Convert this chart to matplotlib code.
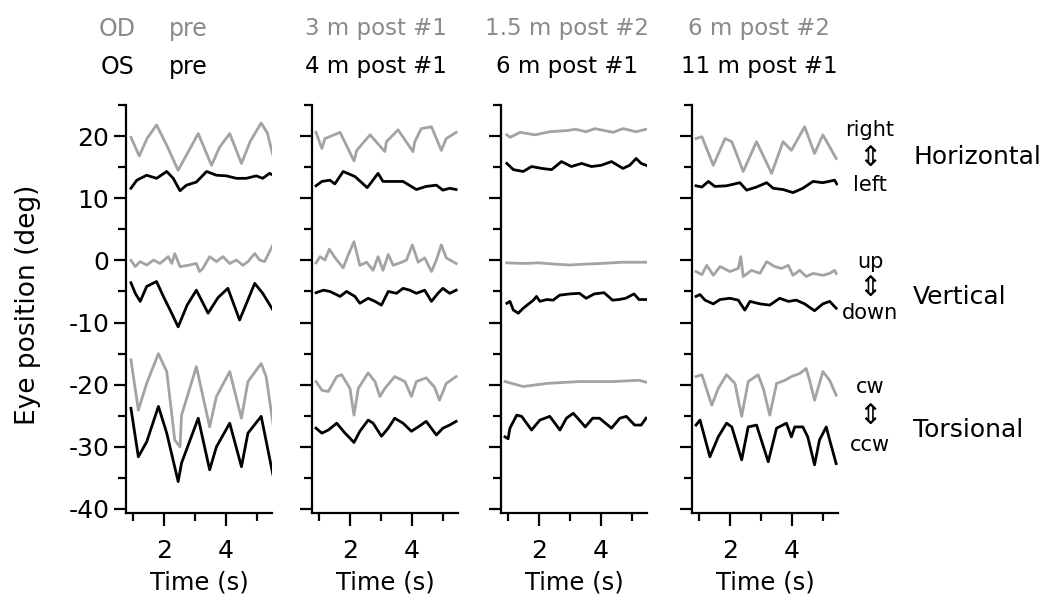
import matplotlib
matplotlib.use("Agg")
import matplotlib.pyplot as plt
from matplotlib.ticker import FixedLocator

plt.rcParams['font.family'] = ['DejaVu Sans']
plt.rcParams['axes.unicode_minus'] = False

GRAY = '#a3a3a3'
TXT_GRAY = '#8a8a8a'

# ---- titles ----
od_titles = ['pre', '3 m post #1', '1.5 m post #2', '6 m post #2']
os_titles = ['pre', '4 m post #1', '6 m post #1', '11 m post #1']

# ---- panel 1 : pre / pre ----
p1_h_od_t = [0.93, 1.20, 1.45, 1.76, 2.10, 2.46, 2.80, 3.11, 3.54, 3.80, 4.13, 4.51, 4.80, 5.15, 5.35, 5.53]
p1_h_od = [19.8, 16.8, 19.6, 21.8, 18.4, 14.5, 17.6, 20.4, 15.3, 18.2, 20.4, 15.6, 19.2, 22.1, 20.5, 16.9]
p1_h_os_t = [0.93, 1.12, 1.44, 1.76, 2.09, 2.30, 2.52, 2.73, 3.05, 3.38, 3.70, 4.02, 4.35, 4.67, 4.99, 5.20, 5.42, 5.54]
p1_h_os = [11.6, 12.9, 13.7, 13.2, 14.3, 13.2, 11.2, 12.1, 12.6, 14.3, 13.7, 13.6, 13.2, 13.2, 13.6, 13.2, 14.0, 13.7]
p1_v_od_t = [0.93, 1.07, 1.23, 1.44, 1.66, 1.87, 2.14, 2.25, 2.35, 2.52, 2.78, 3.05, 3.15, 3.26, 3.48, 3.70, 3.91,
             4.13, 4.35, 4.56, 4.72, 4.94, 5.10, 5.26, 5.53]
p1_v_od = [0.0, -1.0, -0.2, -0.75, 0.05, -0.5, 0.6, -0.5, 1.1, -1.0, -0.8, -0.5, -1.8, -1.3, 0.6, -0.2, 0.6,
           -0.5, 0.05, -0.8, -0.2, 1.1, 0.05, -0.2, 2.5]
p1_v_os_t = [0.93, 1.07, 1.23, 1.44, 1.76, 1.98, 2.20, 2.46, 2.75, 3.05, 3.43, 3.75, 4.07, 4.45, 4.94, 5.20, 5.53]
p1_v_os = [-3.6, -5.3, -6.6, -4.2, -3.4, -5.8, -8.0, -10.7, -7.2, -4.8, -8.5, -6.0, -4.5, -9.6, -3.7, -5.3, -8.0]
p1_t_od_t = [0.93, 1.17, 1.44, 1.82, 2.09, 2.35, 2.52, 2.57, 3.05, 3.48, 3.70, 4.13, 4.51, 4.72, 5.15, 5.31, 5.53]
p1_t_od = [-16.0, -24.1, -19.8, -15.0, -17.9, -28.9, -30.0, -24.9, -17.1, -26.8, -21.9, -17.9, -25.4, -19.5, -16.6,
           -18.7, -26.2]
p1_t_os_t = [0.93, 1.17, 1.44, 1.82, 2.09, 2.46, 2.57, 3.11, 3.48, 3.70, 4.13, 4.51, 4.72, 5.15, 5.53]
p1_t_os = [-23.8, -31.6, -29.2, -23.5, -27.8, -35.6, -32.6, -25.4, -33.7, -30.0, -26.2, -33.2, -27.8, -25.1, -34.5]

# ---- panel 2 : 3 m post #1 / 4 m post #1 ----
p2_h_od_t = [0.90, 1.09, 1.19, 1.68, 2.13, 2.22, 2.65, 3.13, 3.18, 3.56, 4.04, 4.10, 4.31, 4.64, 4.96, 5.12, 5.44]
p2_h_od = [20.6, 18.0, 19.6, 20.6, 16.0, 17.7, 20.2, 17.5, 19.1, 21.0, 17.5, 19.1, 21.2, 21.5, 17.7, 19.6, 20.6]
p2_h_os_t = [0.90, 1.09, 1.35, 1.51, 1.78, 2.16, 2.56, 2.91, 3.07, 3.40, 3.72, 4.15, 4.47, 4.80, 5.01, 5.23, 5.44]
p2_h_os = [12.0, 12.7, 12.9, 12.3, 14.3, 13.5, 11.7, 14.0, 12.7, 12.7, 12.7, 11.4, 11.9, 12.1, 11.3, 11.6, 11.4]
p2_v_od_t = [0.90, 1.03, 1.19, 1.33, 1.52, 1.78, 1.95, 2.13, 2.32, 2.54, 2.75, 2.91, 3.07, 3.24, 3.40, 3.67, 3.83,
             4.02, 4.21, 4.42, 4.64, 4.80, 4.96, 5.12, 5.44]
p2_v_od = [-0.4, 0.6, 0.05, 1.8, 0.4, -1.2, 0.95, 3.0, -0.8, -0.3, -1.6, 0.6, -1.6, 0.95, -0.8, -0.3, 0.05,
           2.5, -0.3, 0.4, -1.8, 0.05, 2.5, 0.4, -0.5]
p2_v_os_t = [0.90, 1.14, 1.35, 1.68, 1.89, 2.16, 2.32, 2.59, 2.81, 3.02, 3.24, 3.51, 3.72, 3.94, 4.15, 4.42, 4.64,
             4.85, 5.01, 5.23, 5.44]
p2_v_os = [-5.2, -4.8, -5.0, -5.8, -5.0, -5.8, -6.9, -6.1, -6.6, -7.2, -5.0, -5.3, -4.5, -4.8, -5.3, -4.8, -6.6,
           -5.3, -4.5, -5.3, -4.8]
p2_t_od_t = [0.90, 1.09, 1.30, 1.57, 1.73, 2.00, 2.13, 2.27, 2.59, 2.81, 2.97, 3.13, 3.45, 3.78, 3.99, 4.15, 4.47,
             4.74, 4.90, 5.12, 5.44]
p2_t_od = [-19.5, -20.9, -21.1, -18.7, -18.4, -20.6, -24.9, -20.6, -18.1, -19.5, -21.9, -20.6, -18.7, -19.5, -21.9,
           -19.5, -18.9, -20.4, -22.5, -19.8, -18.7]
p2_t_os_t = [0.90, 1.09, 1.30, 1.57, 1.84, 2.13, 2.32, 2.59, 2.75, 3.02, 3.24, 3.45, 3.72, 3.99, 4.21, 4.47, 4.80,
             5.01, 5.23, 5.44]
p2_t_os = [-27.0, -27.8, -27.3, -26.2, -27.8, -29.3, -27.5, -25.7, -26.2, -28.3, -27.0, -25.4, -26.2, -27.5, -26.8,
           -25.9, -28.1, -27.0, -26.5, -25.9]

# ---- panel 3 : 1.5 m post #2 / 6 m post #1 ----
p3_h_od_t = [0.96, 1.06, 1.39, 1.87, 2.35, 2.94, 3.18, 3.53, 3.81, 4.40, 4.72, 5.15, 5.47]
p3_h_od = [20.2, 19.8, 20.6, 20.2, 20.7, 20.9, 21.1, 20.7, 21.2, 20.6, 21.2, 20.7, 21.1]
p3_h_os_t = [0.96, 1.17, 1.49, 1.76, 2.09, 2.41, 2.73, 3.05, 3.38, 3.70, 4.02, 4.35, 4.72, 4.94, 5.15, 5.31, 5.47]
p3_h_os = [15.6, 14.6, 14.3, 15.1, 14.8, 14.6, 15.9, 15.1, 15.6, 15.1, 15.3, 15.9, 14.8, 15.3, 16.4, 15.6, 15.3]
p3_v_od_t = [0.96, 1.50, 2.00, 2.50, 3.00, 3.50, 4.00, 4.70, 5.47]
p3_v_od = [-0.4, -0.5, -0.4, -0.6, -0.75, -0.6, -0.5, -0.3, -0.3]
p3_v_os_t = [0.96, 1.06, 1.17, 1.33, 1.49, 1.82, 1.92, 2.03, 2.25, 2.46, 2.67, 2.99, 3.31, 3.53, 3.79, 4.11, 4.38,
             4.59, 4.81, 5.08, 5.24, 5.47]
p3_v_os = [-6.9, -6.6, -8.0, -8.5, -7.7, -6.4, -5.8, -6.6, -6.3, -6.4, -5.6, -5.4, -5.3, -6.1, -5.4, -5.2, -6.4,
           -6.3, -6.1, -5.4, -6.3, -6.3]
p3_t_od_t = [0.90, 1.49, 2.25, 3.31, 4.38, 5.24, 5.47]
p3_t_od = [-19.5, -20.3, -19.8, -19.5, -19.5, -19.3, -19.6]
p3_t_os_t = [0.90, 1.00, 1.06, 1.28, 1.44, 1.76, 2.03, 2.35, 2.68, 2.89, 3.11, 3.31, 3.50, 3.74, 3.96, 4.35, 4.62,
             4.83, 5.10, 5.31, 5.47]
p3_t_os = [-28.4, -28.7, -27.0, -24.9, -25.1, -27.3, -25.7, -25.1, -27.3, -25.4, -24.6, -25.7, -26.8, -25.4, -25.4,
           -27.0, -25.4, -25.1, -26.5, -26.5, -25.4]

# ---- panel 4 : 6 m post #2 / 11 m post #1 ----
p4_h_od_t = [0.90, 1.09, 1.46, 1.84, 2.06, 2.43, 2.86, 3.35, 3.72, 3.99, 4.42, 4.74, 5.01, 5.44]
p4_h_od = [19.6, 19.9, 15.3, 19.6, 19.1, 14.3, 19.1, 14.0, 19.1, 17.7, 21.5, 17.2, 20.2, 16.4]
p4_h_os_t = [0.90, 1.09, 1.30, 1.51, 1.89, 2.32, 2.54, 2.86, 3.19, 3.40, 3.72, 4.04, 4.36, 4.69, 5.01, 5.39, 5.46]
p4_h_os = [12.0, 11.8, 12.7, 11.9, 12.0, 12.5, 11.3, 11.8, 12.5, 11.6, 11.4, 10.9, 11.6, 12.7, 12.5, 12.9, 12.3]
p4_v_od_t = [0.90, 1.09, 1.25, 1.46, 1.68, 2.00, 2.27, 2.35, 2.43, 2.70, 2.97, 3.19, 3.45, 3.67, 3.89, 4.04, 4.26,
             4.47, 4.69, 5.01, 5.23, 5.39, 5.44]
p4_v_od = [-1.8, -2.3, -0.8, -2.4, -1.0, -1.8, -1.3, 0.6, -2.6, -1.6, -2.1, -0.2, -1.0, -1.3, -0.8, -2.4, -1.6,
           -2.6, -2.1, -2.4, -2.1, -1.6, -2.1]
p4_v_os_t = [0.90, 1.03, 1.19, 1.46, 1.68, 2.00, 2.27, 2.48, 2.65, 2.97, 3.29, 3.61, 3.89, 4.15, 4.42, 4.74, 5.01,
             5.23, 5.44]
p4_v_os = [-5.8, -5.5, -6.4, -7.0, -6.3, -6.1, -6.4, -8.0, -6.6, -7.0, -7.2, -6.1, -6.6, -6.4, -7.0, -8.1, -7.0,
           -6.6, -7.7]
p4_t_od_t = [0.90, 1.09, 1.41, 1.62, 1.89, 2.16, 2.38, 2.59, 2.91, 3.08, 3.29, 3.51, 3.78, 3.99, 4.26, 4.47, 4.58,
             4.74, 5.01, 5.23, 5.44]
p4_t_od = [-18.7, -18.4, -23.3, -20.6, -18.4, -19.8, -25.1, -19.5, -18.4, -20.6, -24.9, -19.8, -19.3, -18.7, -18.2,
           -17.4, -19.3, -22.5, -17.9, -19.3, -21.7]
p4_t_os_t = [0.90, 1.03, 1.35, 1.62, 1.89, 2.06, 2.38, 2.59, 2.86, 3.24, 3.51, 3.83, 3.99, 4.10, 4.36, 4.52, 4.74,
             4.90, 5.12, 5.23, 5.44]
p4_t_os = [-26.5, -25.7, -31.6, -28.4, -26.2, -26.8, -32.1, -26.8, -26.5, -32.4, -27.0, -26.2, -28.4, -26.8, -26.8,
           -28.4, -32.9, -28.9, -26.8, -28.9, -32.7]

panels = [
    [(p1_h_od_t, p1_h_od), (p1_h_os_t, p1_h_os), (p1_v_od_t, p1_v_od), (p1_v_os_t, p1_v_os),
     (p1_t_od_t, p1_t_od), (p1_t_os_t, p1_t_os)],
    [(p2_h_od_t, p2_h_od), (p2_h_os_t, p2_h_os), (p2_v_od_t, p2_v_od), (p2_v_os_t, p2_v_os),
     (p2_t_od_t, p2_t_od), (p2_t_os_t, p2_t_os)],
    [(p3_h_od_t, p3_h_od), (p3_h_os_t, p3_h_os), (p3_v_od_t, p3_v_od), (p3_v_os_t, p3_v_os),
     (p3_t_od_t, p3_t_od), (p3_t_os_t, p3_t_os)],
    [(p4_h_od_t, p4_h_od), (p4_h_os_t, p4_h_os), (p4_v_od_t, p4_v_od), (p4_v_os_t, p4_v_os),
     (p4_t_od_t, p4_t_od), (p4_t_os_t, p4_t_os)],
]

W, H = 1058, 601
fig = plt.figure(figsize=(W / 100, H / 100), dpi=100)

lefts = [126, 312, 501, 692]
ax_w = 146
ax_top, ax_bot = 105, 513
ylo, yhi = -40.65, 25

for i, (left, traces) in enumerate(zip(lefts, panels)):
    ax = fig.add_axes([left / W, 1 - ax_bot / H, ax_w / W, (ax_bot - ax_top) / H])
    for k, (t, v) in enumerate(traces):
        col = GRAY if k % 2 == 0 else 'black'
        ax.plot(t, v, color=col, lw=2.0, solid_joinstyle='round')
    ax.set_xlim(0.77, 5.5)
    ax.set_ylim(ylo, yhi)
    for s in ['top', 'right']:
        ax.spines[s].set_visible(False)
    for s in ['left', 'bottom']:
        ax.spines[s].set_linewidth(1.6)
    ax.yaxis.set_major_locator(FixedLocator([-40, -30, -20, -10, 0, 10, 20]))
    ax.yaxis.set_minor_locator(FixedLocator([-35, -25, -15, -5, 5, 15, 25]))
    ax.xaxis.set_major_locator(FixedLocator([2, 4]))
    ax.xaxis.set_minor_locator(FixedLocator([1, 3, 5]))
    ax.tick_params(which='major', length=9, width=1.6, labelsize=18)
    ax.tick_params(which='minor', length=5.5, width=1.6)
    ax.tick_params(axis='y', pad=3)
    ax.tick_params(axis='x', pad=10)
    ax.set_xlabel('Time (s)', fontsize=17.5, va='top')
    ax.xaxis.set_label_coords(0.5, -0.14)
    if i == 0:
        ax.set_ylabel('Eye position (deg)', fontsize=19)
        ax.yaxis.set_label_coords(-0.58, 0.51)
    else:
        ax.tick_params(axis='y', labelleft=False)

# panel titles
centers = [None, 376, 567, 759]
fig.text(117 / W, 1 - 29 / H, 'OD', color=TXT_GRAY, fontsize=17, ha='center', va='center')
fig.text(117 / W, 1 - 67 / H, 'OS', color='black', fontsize=17, ha='center', va='center')
fig.text(188 / W, 1 - 29 / H, od_titles[0], color=TXT_GRAY, fontsize=17, ha='center', va='center')
fig.text(188 / W, 1 - 67 / H, os_titles[0], color='black', fontsize=17, ha='center', va='center')
for c, a, b in zip(centers[1:], od_titles[1:], os_titles[1:]):
    fig.text(c / W, 1 - 29 / H, a, color=TXT_GRAY, fontsize=16.5, ha='center', va='center')
    fig.text(c / W, 1 - 67 / H, b, color='black', fontsize=16.5, ha='center', va='center')

# direction labels
dirs = [('right', 'left', 'Horizontal', 130, 185, 157),
        ('up', 'down', 'Vertical', 262, 313, 297),
        ('cw', 'ccw', 'Torsional', 387, 445, 430)]
for up, dn, name, yu, yd, yn in dirs:
    fig.text(870 / W, 1 - yu / H, up, fontsize=15, ha='center', va='center')
    fig.text(870 / W, 1 - yd / H, dn, fontsize=15, ha='center', va='center')
    fig.text(870 / W, 1 - (yu + yd) / 2 / H, '\u21d5', fontsize=20, ha='center', va='center')
    fig.text(913 / W, 1 - yn / H, name, fontsize=18, ha='left', va='center')

fig.savefig('out.png', dpi=100)
